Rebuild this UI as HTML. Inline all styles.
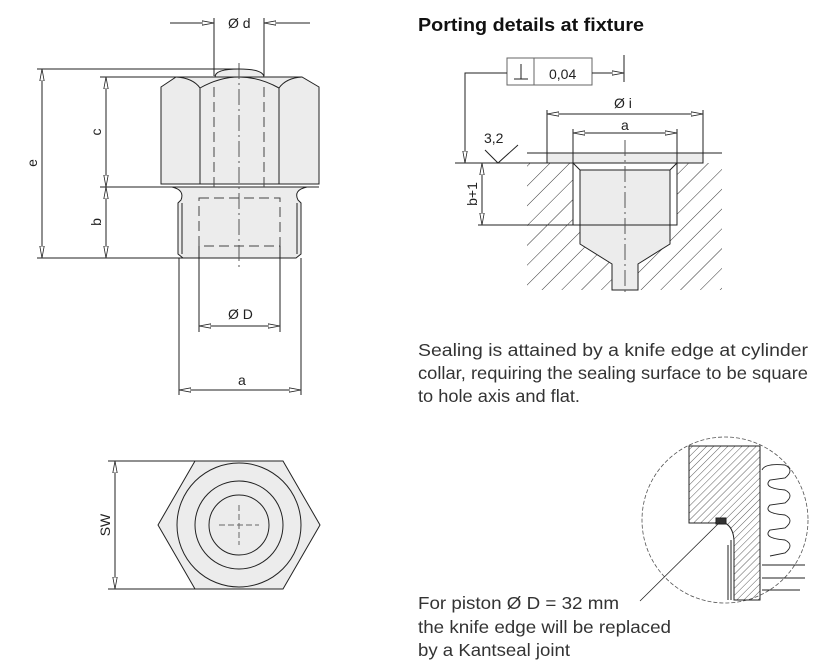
<!DOCTYPE html>
<html><head><meta charset="utf-8"><style>
html,body{margin:0;padding:0;background:#fff;}
svg{display:block;font-family:"Liberation Sans",sans-serif;}
</style></head><body>
<svg width="814" height="672" viewBox="0 0 814 672" xmlns="http://www.w3.org/2000/svg">
<defs>
<pattern id="h" width="14" height="14" patternUnits="userSpaceOnUse" patternTransform="rotate(45)">
<line x1="0" y1="0" x2="0" y2="14" stroke="#333" stroke-width="1"/></pattern>
<pattern id="h2" width="5" height="5" patternUnits="userSpaceOnUse" patternTransform="rotate(45)">
<line x1="0" y1="0" x2="0" y2="5" stroke="#333" stroke-width="0.8"/></pattern>
<marker id="ar" markerWidth="12" markerHeight="6" refX="12" refY="3" orient="auto" markerUnits="userSpaceOnUse">
<path d="M0,0.8 L12,3 L0,5.2 Z" fill="#fff" stroke="#222" stroke-width="0.8"/></marker>
</defs>
<g stroke="#222" stroke-width="1" fill="none">
<path d="M215,77 Q215,69 239,69 Q263,69 264,77" fill="#ececec"/>
<path d="M161,87 L176,77 L302,77 L319,87 L319,184 L161,184 Z" fill="#ececec"/>
<path d="M176,77 Q193,78 200,88 Q239,66 279,88 Q286,78 302,77" />
<line x1="200" y1="88" x2="200" y2="184"/><line x1="279" y1="88" x2="279" y2="184"/>
<path d="M172,187 Q185,190 181,200 L178,203 L178,254 L183,258 L296,258 L301,254 L301,203 L298,200 Q293,190 307,187 Z" fill="#ececec"/>
<line x1="161" y1="187" x2="319" y2="187"/>
<line x1="182" y1="203" x2="182" y2="254"/><line x1="297" y1="203" x2="297" y2="254"/>
<g stroke-dasharray="10,5" stroke="#444"><line x1="214" y1="87" x2="214" y2="190"/><line x1="264" y1="87" x2="264" y2="190"/>
<rect x="199" y="198" width="81" height="48"/></g>
<line x1="239" y1="63" x2="239" y2="267" stroke-dasharray="16,4,2,4" stroke="#555"/>
<line x1="214" y1="18" x2="214" y2="76"/><line x1="264" y1="18" x2="264" y2="76"/>
<line x1="170" y1="23" x2="214" y2="23" marker-end="url(#ar)"/><line x1="310" y1="23" x2="264" y2="23" marker-end="url(#ar)"/>
<line x1="37" y1="69" x2="240" y2="69"/><line x1="100" y1="77" x2="176" y2="77"/>
<line x1="100" y1="187" x2="172" y2="187"/><line x1="37" y1="258" x2="183" y2="258"/>
<line x1="42" y1="163" x2="42" y2="69" marker-end="url(#ar)"/><line x1="42" y1="163" x2="42" y2="258" marker-end="url(#ar)"/>
<line x1="106" y1="130" x2="106" y2="77" marker-end="url(#ar)"/><line x1="106" y1="130" x2="106" y2="187" marker-end="url(#ar)"/>
<line x1="106" y1="220" x2="106" y2="187" marker-end="url(#ar)"/><line x1="106" y1="220" x2="106" y2="258" marker-end="url(#ar)"/>
<line x1="199" y1="246" x2="199" y2="332"/><line x1="280" y1="246" x2="280" y2="332"/>
<line x1="239" y1="326" x2="199" y2="326" marker-end="url(#ar)"/><line x1="239" y1="326" x2="280" y2="326" marker-end="url(#ar)"/>
<line x1="179" y1="258" x2="179" y2="395"/><line x1="301" y1="258" x2="301" y2="395"/>
<line x1="240" y1="390" x2="179" y2="390" marker-end="url(#ar)"/><line x1="240" y1="390" x2="301" y2="390" marker-end="url(#ar)"/>
<polygon points="158,525 195,461 283,461 320,525 283,589 195,589" fill="#ececec"/>
<circle cx="239" cy="525" r="62"/><circle cx="239" cy="525" r="44"/><circle cx="239" cy="525" r="30"/>
<line x1="239" y1="505" x2="239" y2="545" stroke-dasharray="6,3" stroke="#666"/><line x1="219" y1="525" x2="259" y2="525" stroke-dasharray="6,3" stroke="#666"/>
<line x1="108" y1="461" x2="195" y2="461"/><line x1="108" y1="589" x2="195" y2="589"/>
<line x1="115" y1="525" x2="115" y2="461" marker-end="url(#ar)"/><line x1="115" y1="525" x2="115" y2="589" marker-end="url(#ar)"/>
<path d="M527,163 L573,163 L573,225 L580,225 L580,244 L612,264 L612,290 L527,290 Z" fill="url(#h)" stroke="none"/>
<path d="M677,163 L722,163 L722,290 L638,290 L638,264 L670,244 L670,225 L677,225 Z" fill="url(#h)" stroke="none"/>
<rect x="547" y="153" width="156" height="10" fill="#ececec"/>
<path d="M573,163 L580,170 M677,163 L670,170" />
<path d="M580,170 L670,170 L670,244 L638,264 L638,290 L612,290 L612,264 L580,244 Z" fill="#ececec" stroke="#222"/>
<rect x="573" y="163" width="104" height="62"/>
<line x1="527" y1="153" x2="722" y2="153"/><line x1="455" y1="163" x2="547" y2="163"/>
<line x1="478" y1="225" x2="573" y2="225"/>
<line x1="482" y1="194" x2="482" y2="163" marker-end="url(#ar)"/><line x1="482" y1="194" x2="482" y2="225" marker-end="url(#ar)"/>
<line x1="625" y1="140" x2="625" y2="296" stroke-dasharray="16,4,2,4" stroke="#555"/>
<line x1="547" y1="110" x2="547" y2="153"/><line x1="703" y1="110" x2="703" y2="153"/>
<line x1="625" y1="114" x2="547" y2="114" marker-end="url(#ar)"/><line x1="625" y1="114" x2="703" y2="114" marker-end="url(#ar)"/>
<line x1="573" y1="129" x2="573" y2="163"/><line x1="677" y1="129" x2="677" y2="163"/>
<line x1="625" y1="133" x2="573" y2="133" marker-end="url(#ar)"/><line x1="625" y1="133" x2="677" y2="133" marker-end="url(#ar)"/>
<rect x="507" y="58" width="85" height="27" stroke="#666"/><line x1="534" y1="58" x2="534" y2="85" stroke="#666"/>
<line x1="514" y1="79" x2="528" y2="79"/><line x1="521" y1="64" x2="521" y2="79"/>
<path d="M507,73 L465,73 L465,163" marker-end="url(#ar)"/>
<line x1="592" y1="73" x2="624" y2="73" marker-end="url(#ar)"/><line x1="624" y1="55" x2="624" y2="82"/>
<path d="M485,150 L498,163 L518,145"/>
<circle cx="725" cy="520" r="83" stroke="#555" stroke-dasharray="4,2" stroke-width="0.8"/>
<path d="M689,446 L760,446 L760,600 L734,600 L734,540 Q733,527 725,523 L689,523 Z" fill="url(#h2)" stroke="#222"/>
<path d="M731,540 L731,600 M728,545 L728,600"/>
<rect x="716" y="518" width="10" height="6" fill="#333"/>
<path d="M762,470 Q765,463 785,465 Q795,470 785,478 L770,480 Q762,488 785,490 Q795,495 785,503 L770,505 Q762,513 785,515 Q795,520 785,528 L770,530 Q762,538 785,540 Q795,545 785,553 L770,556" stroke-width="0.9"/>
<path d="M762,565 L805,565 M762,578 L805,578 M762,590 L800,590"/>
<line x1="640" y1="601" x2="720" y2="522" stroke-width="0.8"/>
</g>
<g fill="#222" font-size="14">
<text x="228" y="28">Ø d</text>
<text x="228" y="319">Ø D</text>
<text x="238" y="385">a</text>
<text transform="translate(37,163) rotate(-90)" text-anchor="middle">e</text>
<text transform="translate(101,132) rotate(-90)" text-anchor="middle">c</text>
<text transform="translate(101,222) rotate(-90)" text-anchor="middle">b</text>
<text transform="translate(110,525) rotate(-90)" text-anchor="middle">SW</text>
<text x="549" y="79">0,04</text>
<text x="614" y="108">Ø i</text>
<text x="621" y="130">a</text>
<text x="484" y="143">3,2</text>
<text transform="translate(477,194) rotate(-90)" text-anchor="middle">b+1</text>
<text x="418" y="31" font-weight="bold" font-size="18" fill="#111" textLength="226" lengthAdjust="spacingAndGlyphs">Porting details at fixture</text>
<g font-size="17.7" fill="#333">
<text x="418" y="356" textLength="390" lengthAdjust="spacingAndGlyphs">Sealing is attained by a knife edge at cylinder</text>
<text x="418" y="379" textLength="390" lengthAdjust="spacingAndGlyphs">collar, requiring the sealing surface to be square</text>
<text x="418" y="402" textLength="162" lengthAdjust="spacingAndGlyphs">to hole axis and flat.</text>
<text x="418" y="609" textLength="201" lengthAdjust="spacingAndGlyphs">For piston Ø D = 32 mm</text>
<text x="418" y="633" textLength="253" lengthAdjust="spacingAndGlyphs">the knife edge will be replaced</text>
<text x="418" y="656" textLength="152" lengthAdjust="spacingAndGlyphs">by a Kantseal joint</text>
</g></g>
</svg>
</body></html>
